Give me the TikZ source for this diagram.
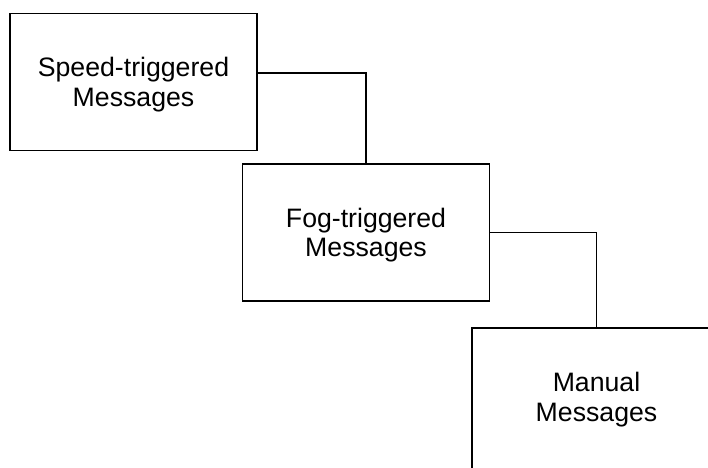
\documentclass[tikz,border=0pt]{standalone}
\usepackage{fontspec}
\setmainfont{Liberation Sans}
\usepackage{tikz}

\tikzset{msgbox/.style={draw=black,line width=1.3pt,minimum width=185.25pt,minimum height=102.75pt,align=center,inner sep=0pt,text depth=0pt,font=\fontsize{20}{22}\selectfont}}

\begin{document}
\begin{tikzpicture}[x=0.75pt,y=-0.75pt,line width=1.3pt]
\useasboundingbox (0,0) rectangle (708,468);

%Message boxes, top left to bottom right
\node[msgbox] (speed) at (133.5,82) {Speed-triggered\\Messages};
\node[msgbox] (fog) at (366,232.5) {Fog-triggered\\Messages};
\node[msgbox,draw=none] (manual) at (596.5,397) {Manual\\Messages};
%last box runs off the page, only top and left side
\draw[black] ([yshift=-10pt]manual.south west) -- (manual.north west) -- ([xshift=10pt]manual.north east);

%Links between the boxes
\draw[black] ([yshift=7pt]speed.east) -| (fog.north);
\draw[black] (fog.east) -| (manual.north);

\end{tikzpicture}
\end{document}
